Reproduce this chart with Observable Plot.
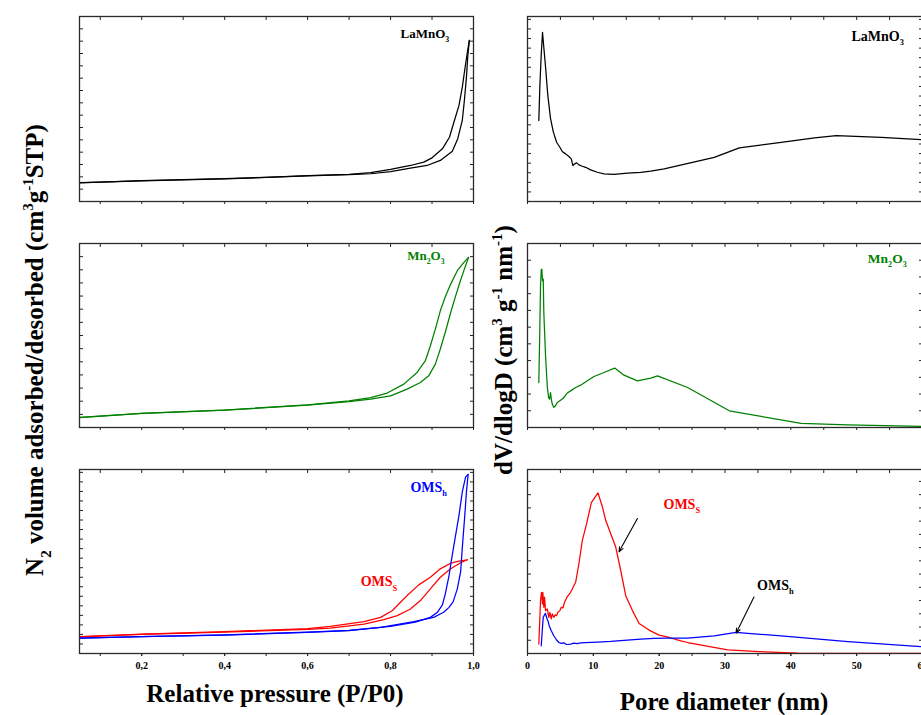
<!DOCTYPE html>
<html>
<head>
<meta charset="utf-8">
<script src="https://cdn.jsdelivr.net/npm/d3@7"></script>
<script src="https://cdn.jsdelivr.net/npm/@observablehq/plot@0.6"></script>
<style>
  html, body { margin: 0; padding: 0; background: #fff; overflow: hidden; }
  #chart { position: relative; width: 921px; height: 715px; overflow: hidden; background: #fff; }
  #chart > svg { position: absolute; margin: 0; max-width: none; }
  #chart text { font-family: "Liberation Serif", "Times New Roman", Times, serif; }
</style>
</head>
<body>
<div id="chart"></div>
<script>
// ---- N2 isotherms (relative pressure P/P0, adsorbed volume, arbitrary units) ----
const lamnoAdsP = [0.05, 0.1, 0.2, 0.3, 0.4, 0.5, 0.6, 0.7, 0.752, 0.800, 0.848, 0.888, 0.920, 0.949, 0.962, 0.973, 0.978, 0.983, 0.986, 0.990];
const lamnoAdsV = [1.52, 1.57, 1.68, 1.76, 1.84, 1.95, 2.08, 2.17, 2.25, 2.43, 2.70, 2.92, 3.33, 4.08, 5.09, 6.57, 8.19, 10.08, 11.70, 13.06];
const lamnoDesP = [0.990, 0.986, 0.981, 0.973, 0.965, 0.954, 0.942, 0.925, 0.900, 0.880, 0.848, 0.800, 0.752, 0.7, 0.6, 0.5, 0.4, 0.3, 0.2, 0.1, 0.05];
const lamnoDesV = [13.06, 12.25, 11.17, 9.27, 7.79, 6.57, 5.21, 4.27, 3.54, 3.19, 2.92, 2.60, 2.35, 2.20, 2.09, 1.96, 1.85, 1.77, 1.69, 1.58, 1.53];

const mnAdsP = [0.05, 0.2, 0.4, 0.6, 0.7, 0.752, 0.800, 0.840, 0.872, 0.892, 0.908, 0.920, 0.933, 0.945, 0.957, 0.967, 0.978, 0.988];
const mnAdsV = [0.76, 1.07, 1.32, 1.70, 1.96, 2.16, 2.41, 2.92, 3.42, 3.93, 4.82, 5.97, 7.36, 8.75, 10.02, 11.03, 12.05, 12.94];
const mnDesP = [0.988, 0.977, 0.961, 0.945, 0.933, 0.920, 0.908, 0.896, 0.884, 0.864, 0.832, 0.792, 0.752, 0.7, 0.6, 0.4, 0.2, 0.05];
const mnDesV = [12.94, 12.56, 11.93, 10.91, 10.02, 8.88, 7.49, 6.22, 5.08, 4.19, 3.30, 2.62, 2.28, 2.02, 1.72, 1.33, 1.08, 0.77];

const omshAdsP = [0.05, 0.2, 0.4, 0.6, 0.7, 0.776, 0.856, 0.904, 0.928, 0.941, 0.951, 0.961, 0.969, 0.974, 0.979, 0.983, 0.987];
const omshAdsV = [1.61, 1.76, 1.93, 2.21, 2.39, 2.74, 3.34, 3.79, 4.32, 4.84, 5.44, 6.78, 8.60, 11.68, 14.49, 16.95, 18.78];
const omshDesP = [0.987, 0.981, 0.973, 0.965, 0.954, 0.946, 0.941, 0.932, 0.925, 0.913, 0.896, 0.86, 0.8, 0.7, 0.6, 0.4, 0.2, 0.05];
const omshDesV = [18.78, 18.53, 16.95, 14.49, 11.68, 9.58, 8.18, 6.25, 5.09, 4.32, 3.79, 3.30, 2.85, 2.42, 2.23, 1.95, 1.78, 1.62];

const omssAdsP = [0.05, 0.2, 0.4, 0.6, 0.655, 0.736, 0.784, 0.816, 0.848, 0.872, 0.896, 0.920, 0.945, 0.969, 0.985];
const omssAdsV = [1.75, 2.00, 2.25, 2.52, 2.67, 3.09, 3.55, 3.97, 4.67, 5.55, 6.78, 8.00, 8.88, 9.52, 9.83];
const omssDesP = [0.985, 0.965, 0.945, 0.920, 0.896, 0.868, 0.844, 0.824, 0.804, 0.776, 0.736, 0.655, 0.6, 0.4, 0.2, 0.05];
const omssDesV = [9.83, 9.68, 9.47, 8.88, 8.00, 7.20, 6.25, 5.37, 4.49, 3.79, 3.34, 2.84, 2.60, 2.30, 2.03, 1.77];

// ---- Pore size distributions (pore diameter in nm, dV/dlogD, arbitrary units) ----
const lamnoD = [1.72, 1.87, 2.09, 2.28, 2.48, 2.74, 3.09, 3.50, 3.91, 4.42, 4.92, 5.28, 5.79, 6.29, 6.65, 6.90, 7.16, 7.46, 7.81, 8.33, 8.83, 9.59, 10.61, 11.62, 13.14, 15.18, 17.21, 18.73, 20.76, 28.37, 32.18, 38.53, 43.60, 46.90, 53.75, 59.84];
const lamnoPSD = [8.44, 11.91, 15.39, 17.64, 16.07, 14.06, 11.04, 8.65, 7.29, 6.18, 5.66, 5.21, 4.97, 4.69, 4.45, 3.75, 3.93, 4.03, 3.82, 3.68, 3.57, 3.30, 3.05, 2.89, 2.84, 2.95, 3.05, 3.16, 3.41, 4.61, 5.59, 6.18, 6.64, 6.88, 6.70, 6.46];

const mnD = [1.72, 1.87, 1.98, 2.09, 2.18, 2.28, 2.39, 2.48, 2.74, 3.00, 3.20, 3.35, 3.50, 3.61, 3.76, 4.00, 4.26, 4.52, 4.92, 5.28, 5.53, 5.79, 6.05, 6.55, 7.31, 8.07, 9.09, 10.10, 11.62, 13.25, 14.66, 16.70, 18.73, 19.75, 24.32, 30.65, 41.57, 48.68, 59.84];
const mnPSD = [2.69, 5.88, 8.47, 9.43, 9.47, 8.77, 8.87, 6.87, 4.29, 2.49, 1.79, 1.70, 2.09, 1.70, 1.40, 1.20, 1.30, 1.49, 1.60, 1.70, 1.79, 1.94, 2.06, 2.19, 2.39, 2.53, 2.79, 3.05, 3.29, 3.55, 3.13, 2.79, 2.95, 3.09, 2.39, 1.00, 0.24, 0.16, 0.06];

const omssD = [1.72, 1.98, 2.13, 2.28, 2.33, 2.48, 2.59, 2.74, 3.00, 3.24, 3.40, 3.61, 3.76, 4.00, 4.22, 4.42, 4.61, 4.92, 5.13, 5.38, 5.63, 6.05, 6.55, 7.31, 7.81, 8.33, 8.98, 9.70, 10.71, 11.38, 11.88, 12.64, 13.40, 14.16, 14.92, 15.94, 16.95, 18.47, 19.99, 21.52, 23.30, 24.32, 30.41, 35.98, 41.07, 59.84];
const omssPSD = [0.71, 4.00, 4.62, 3.75, 4.62, 3.49, 4.25, 3.24, 3.37, 2.73, 3.11, 2.61, 2.99, 2.73, 2.93, 2.86, 3.11, 3.24, 3.49, 3.44, 3.87, 4.30, 4.62, 5.38, 6.78, 8.54, 9.81, 11.40, 12.13, 11.07, 10.06, 9.05, 8.04, 6.27, 4.37, 3.24, 2.27, 1.77, 1.39, 1.21, 0.96, 0.83, 0.28, 0.13, 0.03, 0];

const omshD = [2.09, 2.24, 2.39, 2.59, 2.74, 2.89, 3.09, 3.30, 3.61, 4.00, 4.42, 4.77, 5.13, 5.53, 5.79, 6.05, 6.55, 7.05, 7.57, 8.07, 8.83, 10.61, 12.64, 14.66, 17.21, 19.23, 21.27, 23.30, 24.32, 28.37, 31.67, 33.45, 38.53, 48.68, 59.84];
const omshPSD = [0.58, 1.72, 2.73, 2.93, 3.03, 2.73, 2.48, 2.10, 1.72, 1.34, 1.02, 0.83, 0.76, 0.81, 0.71, 0.68, 0.71, 0.79, 0.74, 0.81, 0.83, 0.86, 0.91, 0.99, 1.09, 1.14, 1.17, 1.17, 1.17, 1.34, 1.59, 1.52, 1.34, 0.89, 0.51];

// ---- Axis ticks and labels ----
const pressureLabels = [0.2, 0.4, 0.6, 0.8, 1.0];
const pressureMinor = [0.1, 0.2, 0.3, 0.4, 0.5, 0.6, 0.7, 0.8, 0.9, 1.0];
const poreLabels = [0, 10, 20, 30, 40, 50, 60];
const poreMinor = [0, 5, 10, 15, 20, 25, 30, 35, 40, 45, 50, 55, 60];

// ---- Sample names (with sub/superscript markup) and colours ----
const sampleNames = ["LaMnO_{3}", "Mn_{2}O_{3}", "OMS_{h}", "OMS_{S}"];
const sampleColors = ["#000000", "#008000", "#0000ff", "#ff0000"];

// Pointer arrows on the pore-size panel: [x1, y1, x2, y2]
const omssArrow = [16.7, 10.2, 13.9, 7.68];
const omshArrow = [34.4, 4.27, 31.7, 1.54];

const FONT = '"Liberation Serif", "Times New Roman", Times, serif';
const chart = document.getElementById("chart");

const pts = (xs, ys) => xs.map((x, i) => ({x, y: ys[i]}));
const commaFmt = (v) => v.toFixed(1).replace(".", ",");

function curve(xs, ys, color) {
  return Plot.line(pts(xs, ys), {x: "x", y: "y", stroke: color, strokeWidth: 1.25});
}
function nameLabel(i, x, y, size, color = sampleColors[i]) {
  return Plot.text([sampleNames[i]], {x: () => x, y: () => y, text: (d) => d, fill: color,
    fontSize: size, fontWeight: "bold", fontFamily: FONT, textAnchor: "start"});
}
function arrow(a) {
  return Plot.arrow([a], {x1: (d) => d[0], y1: (d) => d[1], x2: (d) => d[2], y2: (d) => d[3],
    stroke: "#000", strokeWidth: 1.1, headLength: 7, headAngle: 45});
}

function addPanel({left, top, width, height, xDomain, xMinor, xLabels, xFormat, yMax, labels, marks}) {
  const mt = 6, ml = 8, mr = 8, mb = labels ? 26 : 8;
  const yTicks = d3.range(0, Math.floor(yMax) + 1);
  const svg = Plot.plot({
    width: width + ml + mr,
    height: height + mt + mb,
    marginTop: mt, marginLeft: ml, marginRight: mr, marginBottom: mb,
    x: {domain: xDomain},
    y: {domain: [0, yMax]},
    style: {fontFamily: FONT, fontWeight: "bold", fontSize: "10px", background: "transparent", overflow: "visible", color: "#222"},
    marks: [
      Plot.axisX(xMinor, {anchor: "bottom", tickSize: 3, tickFormat: () => "", label: null}),
      Plot.axisX(xMinor, {anchor: "top", tickSize: -3, tickFormat: () => "", label: null}),
      labels ? Plot.axisX(xLabels, {anchor: "bottom", tickSize: 3, tickPadding: 5, tickFormat: xFormat, label: null,
        fill: "#000", fontFamily: FONT, fontWeight: "bold", fontSize: 10}) : null,
      Plot.axisY(yTicks, {anchor: "left", tickSize: -4, tickFormat: () => "", label: null}),
      Plot.axisY(yTicks, {anchor: "right", tickSize: -4, tickFormat: () => "", label: null}),
      ...marks,
      Plot.frame({stroke: "#2b2b2b", strokeWidth: 1.3})
    ]
  });
  svg.style.fontFamily = FONT;
  svg.style.left = (left - ml) + "px";
  svg.style.top = (top - mt) + "px";
  chart.appendChild(svg);
}

const leftCol = {left: 79, width: 394, xDomain: [0.05, 1.0], xMinor: pressureMinor, xLabels: pressureLabels, xFormat: commaFmt};
const rightCol = {left: 527, width: 395, xDomain: [0, 60], xMinor: poreMinor, xLabels: poreLabels, xFormat: (d) => String(d)};

// Isotherms
addPanel({...leftCol, top: 16, height: 185, yMax: 15, marks: [
  curve(lamnoAdsP, lamnoAdsV, sampleColors[0]),
  curve(lamnoDesP, lamnoDesV, sampleColors[0]),
  nameLabel(0, 0.824, 13.6, 13)
]});
addPanel({...leftCol, top: 243, height: 184, yMax: 14, marks: [
  curve(mnAdsP, mnAdsV, sampleColors[1]),
  curve(mnDesP, mnDesV, sampleColors[1]),
  nameLabel(1, 0.840, 13.05, 13)
]});
addPanel({...leftCol, top: 469, height: 184, yMax: 19.3, labels: true, marks: [
  curve(omssAdsP, omssAdsV, sampleColors[3]),
  curve(omssDesP, omssDesV, sampleColors[3]),
  curve(omshAdsP, omshAdsV, sampleColors[2]),
  curve(omshDesP, omshDesV, sampleColors[2]),
  nameLabel(2, 0.848, 17.4, 14),
  nameLabel(3, 0.728, 7.5, 14)
]});

// Pore size distributions
addPanel({...rightCol, top: 16, height: 185, yMax: 19.3, marks: [
  curve(lamnoD, lamnoPSD, sampleColors[0]),
  nameLabel(0, 49.2, 17.2, 14)
]});
addPanel({...rightCol, top: 243, height: 184, yMax: 11, marks: [
  curve(mnD, mnPSD, sampleColors[1]),
  nameLabel(1, 51.7, 10.1, 13.5)
]});
addPanel({...rightCol, top: 469, height: 184, yMax: 13.9, labels: true, marks: [
  curve(omssD, omssPSD, sampleColors[3]),
  curve(omshD, omshPSD, sampleColors[2]),
  arrow(omssArrow),
  arrow(omshArrow),
  nameLabel(3, 20.66, 11.26, 14),
  nameLabel(2, 34.87, 5.13, 14, "#000")
]});

// Axis titles drawn on a full-size overlay
const overlay = d3.select(chart).append("svg")
  .attr("width", 921).attr("height", 715)
  .style("left", "0px").style("top", "0px").style("pointer-events", "none")
  .attr("font-family", FONT).attr("font-weight", "bold").attr("font-size", 25).attr("fill", "#000");

overlay.append("text").attr("x", 275).attr("y", 702).attr("text-anchor", "middle").text("Relative pressure (P/P0)");
overlay.append("text").attr("x", 724).attr("y", 710).attr("text-anchor", "middle").text("Pore diameter (nm)");
overlay.append("text").attr("transform", "translate(43,350) rotate(-90)").attr("text-anchor", "middle")
  .text("N_{2} volume adsorbed/desorbed (cm^{3}g^{-1}STP)");
overlay.append("text").attr("transform", "translate(512,350) rotate(-90)").attr("text-anchor", "middle")
  .text("dV/dlogD (cm^{3} g^{-1} nm^{-1})");

// Turn _{..} and ^{..} markup into subscript / superscript tspans
function setRich(el, str) {
  const size = parseFloat(getComputedStyle(el).fontSize) || 12;
  while (el.firstChild) el.removeChild(el.firstChild);
  const re = /([_^])\{([^}]*)\}/g;
  let last = 0, shift = 0, m;
  const add = (txt, s) => {
    const t = document.createElementNS("http://www.w3.org/2000/svg", "tspan");
    t.textContent = txt;
    const dy = s - shift;
    if (dy) t.setAttribute("dy", dy.toFixed(2));
    shift = s;
    if (s !== 0) t.setAttribute("font-size", (size * 0.6).toFixed(1));
    el.appendChild(t);
  };
  while ((m = re.exec(str))) {
    if (m.index > last) add(str.slice(last, m.index), 0);
    add(m[2], m[1] === "_" ? size * 0.3 : -size * 0.42);
    last = re.lastIndex;
  }
  if (last < str.length) add(str.slice(last), 0);
}
chart.querySelectorAll("text").forEach((el) => {
  const s = el.textContent;
  if (/[_^]\{/.test(s)) setRich(el, s);
});
</script>
</body>
</html>
